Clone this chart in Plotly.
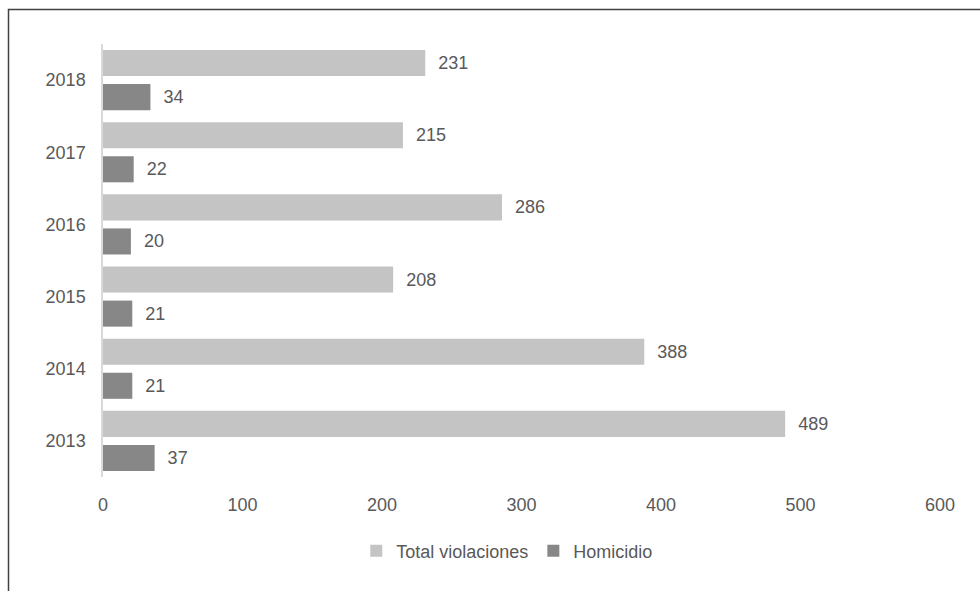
import plotly.graph_objects as go

years = ["2013", "2014", "2015", "2016", "2017", "2018"]
total_violaciones = [489, 388, 208, 286, 215, 231]
homicidio = [37, 21, 21, 20, 22, 34]
x_ticks = [0, 100, 200, 300, 400, 500, 600]

FONT = "Liberation Sans, Arial, sans-serif"
TXT = "#595959"
PAD = "\u00a0\u00a0"

fig = go.Figure()
fig.add_trace(go.Bar(
    y=years, x=homicidio, orientation="h", name="Homicidio",
    marker=dict(color="#878787", line=dict(width=0)),
    text=[PAD + str(v) for v in homicidio], textposition="outside", cliponaxis=False,
    textfont=dict(family=FONT, size=18, color=TXT), legendrank=2,
))
fig.add_trace(go.Bar(
    y=years, x=total_violaciones, orientation="h", name="Total violaciones",
    marker=dict(color="#C4C4C4", line=dict(width=0)),
    text=[PAD + str(v) for v in total_violaciones], textposition="outside", cliponaxis=False,
    textfont=dict(family=FONT, size=18, color=TXT), legendrank=1,
))

L, R, T, B = 103, 40, 44, 114
W, H = 980, 591
pw, ph = W - L - R, H - T - B

def px_x(p):
    return (p - L) / pw

def px_y(p):
    return (H - B - p) / ph

fig.update_layout(
    width=W, height=H,
    margin=dict(l=L, r=R, t=T, b=B, pad=0),
    paper_bgcolor="white", plot_bgcolor="white",
    barmode="group", bargap=0.056, bargroupgap=0.235,
    font=dict(family=FONT, size=18, color=TXT),
    showlegend=True,
    legend=dict(orientation="h", x=0.483, xanchor="center", y=px_y(551), yanchor="middle",
                font=dict(family=FONT, size=18, color=TXT), itemwidth=30,
                bgcolor="rgba(0,0,0,0)"),
    xaxis=dict(range=[0, 600], tickvals=x_ticks, showgrid=False, zeroline=False,
               showline=False, ticks="", ticklabelstandoff=15,
               tickfont=dict(family=FONT, size=18, color=TXT)),
    yaxis=dict(categoryorder="array", categoryarray=years, showgrid=False, zeroline=False,
               showline=True, linecolor="#D9D9D9", linewidth=1.5, ticks="",
               ticklabelstandoff=12,
               tickfont=dict(family=FONT, size=18, color=TXT)),
    shapes=[dict(type="rect", xref="paper", yref="paper",
                 x0=px_x(8.5), x1=px_x(990), y0=px_y(600), y1=px_y(9.5),
                 line=dict(color="#404040", width=1.5), fillcolor="rgba(0,0,0,0)", layer="above")],
)

fig.write_html("out.html")
